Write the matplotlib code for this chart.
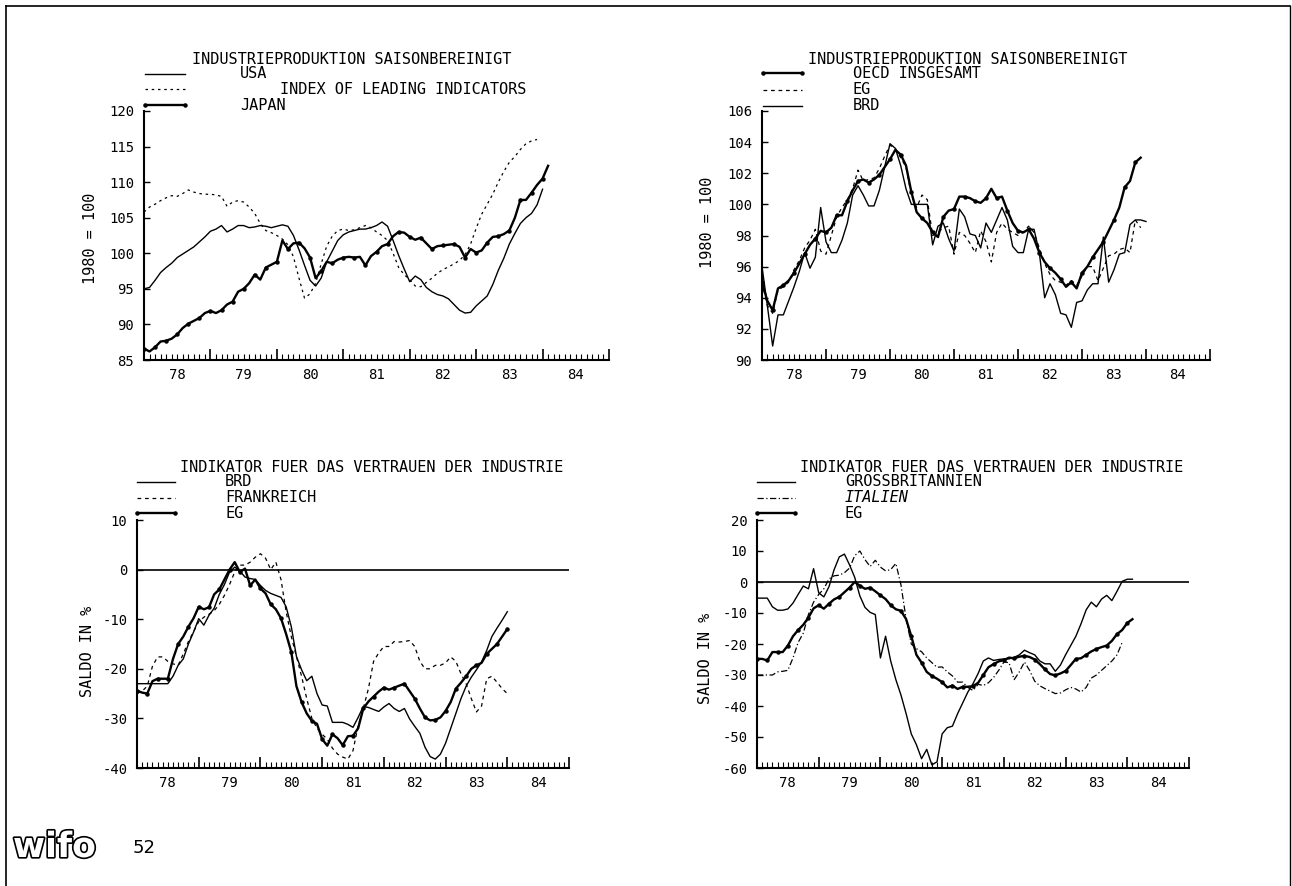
import numpy as np
import matplotlib.pyplot as plt
from matplotlib.lines import Line2D
import matplotlib.patheffects as pe

W, H = 1292, 886
plt.rcParams["axes.unicode_minus"] = False
MONO = "DejaVu Sans Mono"

# ----------------------------
# Data: monthly values, first value = January 1978
# ----------------------------
YEAR_LABELS = ["78", "79", "80", "81", "82", "83", "84"]

# panel 1: Industrieproduktion USA / Japan, leading indicators (1980 = 100)
usa = [95.0, 95.2, 96.2, 97.3, 98.0, 98.6, 99.4, 99.9, 100.4, 100.9, 101.6, 102.3,
       103.1, 103.4, 103.9, 103.0, 103.4, 103.9, 103.9, 103.6, 103.7, 103.9, 103.8, 103.6,
       103.8, 104.0, 103.8, 102.5, 100.5, 98.3, 96.2, 95.4, 96.5, 98.8, 100.3, 101.8,
       102.6, 103.0, 103.2, 103.4, 103.4, 103.6, 103.9, 104.4, 103.8, 101.8, 99.7, 97.8,
       96.0, 96.8, 96.3, 95.2, 94.6, 94.2, 94.0, 93.6, 92.8, 92.0, 91.6, 91.7,
       92.6, 93.3, 94.0, 95.6, 97.6, 99.3, 101.3, 102.8, 104.2, 105.0, 105.6, 106.8,
       109.0]
leading = [105.8, 106.5, 106.9, 107.4, 107.8, 108.1, 108.0, 108.4, 108.9, 108.6, 108.4, 108.3,
           108.3, 108.2, 108.0, 106.6, 107.2, 107.4, 107.2, 106.5, 105.6, 104.2, 103.2, 102.9,
           102.5, 102.0, 101.2, 99.5, 96.5, 93.7, 94.3, 95.8, 98.5, 101.0, 102.4, 103.2,
           103.4, 103.2, 103.3, 103.6, 103.9, 103.6, 103.0, 102.5, 101.8, 100.0, 98.0, 97.0,
           96.3, 95.4, 95.3, 95.9, 96.5, 97.2, 97.7, 98.1, 98.5, 99.0, 99.8, 101.3,
           103.5, 105.5, 106.9, 108.3, 110.0, 111.5, 112.8, 113.6, 114.6, 115.4, 115.8, 116.0]
japan = [86.6, 86.2, 86.8, 87.6, 87.7, 88.0, 88.6, 89.5, 90.1, 90.5, 90.9, 91.6,
         91.9, 91.6, 92.0, 92.8, 93.2, 94.6, 95.0, 95.8, 97.0, 96.3, 98.0, 98.4,
         98.8, 101.8, 100.6, 101.4, 101.5, 100.7, 99.4, 96.5, 97.5, 98.8, 98.6, 99.1,
         99.4, 99.5, 99.4, 99.5, 98.3, 99.6, 100.2, 101.0, 101.3, 102.4, 103.0, 102.9,
         102.3, 101.9, 102.2, 101.4, 100.6, 101.0, 101.1, 101.2, 101.3, 100.9, 99.4, 100.6,
         100.1, 100.4, 101.5, 102.3, 102.4, 102.7, 103.2, 105.0, 107.5, 107.5, 108.5, 109.6,
         110.5, 112.3]

# panel 2: Industrieproduktion OECD / EG / BRD (1980 = 100)
oecd = [95.0, 93.8, 93.2, 94.6, 94.8, 95.1, 95.6, 96.2, 96.8, 97.4, 97.8, 98.3,
        98.2, 98.5, 99.3, 99.3, 100.2, 100.9, 101.5, 101.6, 101.4, 101.6, 101.9, 102.4,
        102.9, 103.5, 103.2, 102.5, 100.8, 99.5, 99.1, 98.8, 98.2, 97.9, 99.2, 99.6,
        99.7, 100.5, 100.5, 100.4, 100.2, 100.1, 100.4, 101.0, 100.4, 100.5, 99.6, 98.8,
        98.3, 98.2, 98.4, 97.8, 96.9, 96.3, 95.9, 95.6, 95.2, 94.7, 95.0, 94.6,
        95.6, 96.0, 96.6, 97.1, 97.6, 98.3, 99.0, 99.8, 101.1, 101.5, 102.7, 103.0]
eg_ip = [95.0, 93.5, 93.0, 94.5, 94.7, 95.0, 95.8, 96.4, 97.2, 97.7, 98.4, 97.0,
         96.8, 98.0, 99.2, 99.8, 100.3, 101.0, 102.2, 101.5, 101.6, 101.7, 102.3, 103.1,
         103.8, 103.6, 103.0, 102.4, 100.6, 99.8, 100.6, 100.3, 98.0, 98.2, 98.5, 98.6,
         96.8, 98.2, 98.0, 97.5, 96.9, 98.3, 97.6, 96.3, 98.2, 98.8, 98.4, 98.2,
         98.0, 98.2, 98.6, 98.2, 97.2, 96.2, 95.5, 95.1, 95.0, 94.8, 95.1, 94.8,
         95.4, 96.0, 96.0, 95.1, 95.9, 96.7, 96.8, 97.1, 97.2, 96.9, 99.0, 98.5]
brd_ip = [96.0, 93.5, 90.9, 92.9, 92.9, 93.8, 94.7, 95.7, 96.9, 95.9, 96.6, 99.8,
          97.6, 96.9, 96.9, 97.7, 98.8, 100.6, 101.2, 100.6, 99.9, 99.9, 100.9, 102.4,
          103.9, 103.6, 102.5, 101.0, 100.0, 100.0, 100.0, 100.0, 97.4, 98.6, 98.8, 97.8,
          97.0, 99.7, 99.2, 98.1, 98.0, 97.2, 98.8, 98.2, 99.0, 99.8, 99.0, 97.3,
          96.9, 96.9, 98.4, 98.4, 96.9, 94.0, 94.9, 94.2, 93.0, 92.9, 92.1, 93.7,
          93.8, 94.5, 94.9, 94.9, 97.9, 95.0, 95.8, 96.8, 96.9, 98.7, 99.0, 99.0,
          98.9]

# panel 3: Vertrauensindikator BRD / Frankreich / EG (Saldo in %)
brd_vi = [-23.0, -23.0, -23.0, -23.0, -23.0, -23.0, -23.0, -21.5, -19.3, -18.0, -15.0, -12.6,
          -9.9, -11.2, -9.2, -7.8, -5.0, -3.0, -0.5, 0.5, -0.3, -1.5, -1.8, -2.0,
          -3.2, -4.2, -4.8, -5.2, -5.6, -7.5, -11.5, -17.5, -20.2, -22.4, -21.5, -25.0,
          -27.3, -27.5, -30.8, -30.8, -30.8, -31.2, -31.8, -29.8, -27.6, -27.8, -28.2, -28.6,
          -27.7, -27.0, -28.0, -28.6, -28.0, -30.1, -31.6, -33.0, -35.8, -37.7, -38.2, -37.2,
          -35.0, -32.0, -29.0, -26.0, -23.5, -21.7, -20.2, -18.6, -16.3, -13.5, -11.8, -10.2,
          -8.5]
frankreich = [-25.0, -24.5, -23.5, -19.5, -17.6, -17.6, -18.5, -19.0, -19.3, -17.0, -14.5, -12.5,
              -10.5, -9.6, -9.0, -8.3, -7.0, -5.2, -3.0, -0.5, 0.9, 0.9, 1.5, 2.5,
              3.2, 2.3, 0.0, 1.5, -2.0, -8.5, -13.5, -17.5, -21.5, -26.0, -30.0, -32.0,
              -33.2, -34.2, -36.0, -37.2, -37.8, -38.2, -36.5, -31.5, -28.0, -24.0, -18.5, -16.8,
              -15.5, -15.5, -14.5, -14.6, -14.5, -14.3, -15.5, -18.5, -20.0, -20.0, -19.3, -19.3,
              -18.8, -17.6, -18.5, -21.0, -23.0, -26.0, -28.7, -27.5, -22.0, -21.5, -22.7, -24.0,
              -25.0]
eg_vi3 = [-24.4, -24.8, -25.0, -22.5, -22.0, -22.0, -22.0, -18.0, -15.0, -13.5, -11.5, -9.8,
          -7.5, -8.0, -7.6, -5.0, -4.0, -2.0, 0.0, 1.5, -0.5, 0.2, -3.2, -2.0,
          -3.8, -4.8, -7.0, -8.0, -9.8, -13.0, -16.6, -23.5, -26.7, -29.0, -30.5, -31.1,
          -34.2, -35.5, -33.2, -34.0, -35.4, -33.6, -33.5, -32.0, -28.0, -26.6, -25.6, -24.6,
          -23.8, -24.2, -23.8, -23.4, -23.0, -24.5, -26.0, -28.0, -29.8, -30.4, -30.3, -29.8,
          -28.5, -26.7, -24.0, -22.8, -21.5, -20.0, -19.3, -18.8, -17.0, -16.0, -15.0, -13.5,
          -12.0]

# panel 4: Vertrauensindikator Grossbritannien / Italien / EG (Saldo in %)
gb_vi = [-5.2, -5.2, -5.2, -8.0, -9.1, -9.1, -8.7, -6.8, -4.0, -1.3, -2.2, 4.3,
         -3.5, -4.8, -1.5, 4.0, 8.1, 9.0, 5.5, 1.5, -4.5, -8.2, -9.8, -10.5,
         -24.5, -17.5, -25.5, -31.5, -36.5, -42.5, -49.0, -52.5, -57.0, -54.0, -59.0, -58.0,
         -49.0, -47.0, -46.5, -42.5, -39.0, -35.5, -32.8, -29.5, -25.5, -24.5, -25.3, -25.0,
         -24.8, -24.8, -24.3, -23.5, -22.0, -22.8, -23.5, -25.5, -26.4, -26.4, -28.8, -26.8,
         -23.5, -20.5, -17.5, -13.5, -9.0, -6.5, -8.0, -5.5, -4.3, -6.0, -3.0, 0.2,
         0.9, 0.9]
italien = [-30.0, -30.0, -30.0, -30.0, -29.0, -28.8, -28.5, -24.5, -19.5, -16.5, -10.5, -6.5,
           -4.0, -2.2, 1.0, 2.0, 2.2, 3.0, 4.5, 8.5, 10.0, 7.2, 5.0, 7.0,
           4.8, 3.6, 4.0, 6.0, -1.0, -12.0, -20.0, -21.5, -22.5, -24.5, -26.0, -27.5,
           -27.4, -29.0, -30.3, -32.3, -32.3, -34.0, -35.0, -33.0, -33.4, -32.5, -30.8, -28.5,
           -25.8, -26.0, -31.5, -29.0, -25.8, -28.5, -32.0, -33.5, -34.4, -35.2, -36.0, -35.8,
           -34.8, -34.0, -34.5, -35.5, -34.0, -31.0, -30.0, -28.5, -27.0, -25.5, -23.5, -19.5]
eg_vi4 = [-24.8, -24.8, -25.3, -22.6, -22.6, -22.6, -20.5, -17.5, -15.5, -13.8, -11.5, -8.5,
          -7.5, -8.6, -7.0, -5.6, -4.8, -3.3, -1.8, 0.0, -1.2, -2.2, -1.8, -3.0,
          -4.3, -5.5, -7.5, -8.8, -9.3, -12.0, -17.5, -23.5, -26.0, -29.0, -30.3, -31.2,
          -32.3, -34.0, -33.4, -34.5, -33.8, -33.8, -33.6, -32.5, -30.0, -27.5, -26.5, -25.6,
          -25.2, -24.4, -24.6, -24.1, -23.8, -24.2, -25.0, -26.5, -28.2, -29.7, -30.1, -29.5,
          -28.7, -26.8, -24.8, -24.6, -23.5, -22.4, -21.6, -21.0, -20.5, -19.0, -16.8, -15.5,
          -13.2, -12.0]

# ----------------------------
# Line styles
# ----------------------------
SOLID = dict(color="black", lw=1.0, ls="-")
DASHED = dict(color="black", lw=0.9, ls=(0, (3, 3)))
DOTTED = dict(color="black", lw=0.9, ls=(0, (2, 3)))
DASHDOT = dict(color="black", lw=0.9, ls=(0, (5, 2, 1, 2)))
DOTS = dict(color="black", lw=1.7, ls="-", marker="o", markersize=2.2, markevery=2)


def months(vals):
    return 1978 + np.arange(len(vals)) / 12.0


def px_axes(fig, left, top, right, bottom):
    return fig.add_axes([left / W, 1 - bottom / H, (right - left) / W, (bottom - top) / H])


def fig_text(fig, x, y, s, **kw):
    kw.setdefault("family", MONO)
    kw.setdefault("fontsize", 11)
    kw.setdefault("va", "center")
    kw.setdefault("ha", "left")
    fig.text(x / W, 1 - y / H, s, **kw)


def fig_line(fig, x0, x1, y, style):
    st = dict(style)
    st.pop("markevery", None)
    ln = Line2D([x0 / W, x1 / W], [1 - y / H, 1 - y / H], transform=fig.transFigure, **st)
    fig.add_artist(ln)


def style_axis(ax, ylim, yticks):
    ax.set_xlim(1978, 1985)
    ax.set_ylim(*ylim)
    for s in ("top", "right"):
        ax.spines[s].set_visible(False)
    for s in ("left", "bottom"):
        ax.spines[s].set_linewidth(1.5)
    ax.set_xticks(np.arange(1978, 1986))
    ax.set_xticks(1978 + np.arange(85) / 12.0, minor=True)
    ax.tick_params(axis="x", which="major", direction="in", length=8, width=1.2,
                   labelbottom=False)
    ax.tick_params(axis="x", which="minor", direction="in", length=4, width=0.8)
    ax.set_yticks(yticks)
    ax.set_yticklabels([str(v) for v in yticks], family=MONO, fontsize=10)
    ax.tick_params(axis="y", direction="in", length=4, width=1.0, pad=7)
    for i, lab in enumerate(YEAR_LABELS):
        ax.text(1978.5 + i, -0.062, lab, transform=ax.get_xaxis_transform(),
                ha="center", va="center", family=MONO, fontsize=10)


fig = plt.figure(figsize=(W / 100, H / 100), dpi=100)

# page frame of the scan
fig.add_artist(Line2D([6 / W, 1290 / W], [1 - 6 / H, 1 - 6 / H], transform=fig.transFigure,
                      color="black", lw=1.2))
fig.add_artist(Line2D([6 / W, 6 / W], [0, 1 - 6 / H], transform=fig.transFigure,
                      color="black", lw=1.2))
fig.add_artist(Line2D([1290 / W, 1290 / W], [0, 1 - 6 / H], transform=fig.transFigure,
                      color="black", lw=1.0))

# ---- panel 1
ax1 = px_axes(fig, 144, 111, 609, 360)
style_axis(ax1, (85, 120), list(range(85, 121, 5)))
ax1.plot(months(usa), usa, **SOLID)
ax1.plot(months(leading), leading, **DOTTED)
ax1.plot(months(japan), japan, **DOTS)
fig_text(fig, 192, 59, "INDUSTRIEPRODUKTION SAISONBEREINIGT")
fig_line(fig, 145, 185, 74, SOLID)
fig_text(fig, 240, 74, "USA")
fig_line(fig, 145, 185, 89, DOTTED)
fig_text(fig, 280, 89, "INDEX OF LEADING INDICATORS")
fig_line(fig, 145, 185, 105, DOTS)
fig_text(fig, 240, 105, "JAPAN")
fig_text(fig, 91, 238, "1980 = 100", rotation=90, ha="center")

# ---- panel 2
ax2 = px_axes(fig, 762, 111, 1210, 360)
style_axis(ax2, (90, 106), list(range(90, 107, 2)))
ax2.plot(months(oecd), oecd, **DOTS)
ax2.plot(months(eg_ip), eg_ip, **DASHED)
ax2.plot(months(brd_ip), brd_ip, **SOLID)
fig_text(fig, 808, 59, "INDUSTRIEPRODUKTION SAISONBEREINIGT")
fig_line(fig, 763, 802, 73, DOTS)
fig_text(fig, 853, 73, "OECD INSGESAMT")
fig_line(fig, 763, 802, 90, DASHED)
fig_text(fig, 853, 90, "EG")
fig_line(fig, 763, 802, 106, SOLID)
fig_text(fig, 853, 106, "BRD")
fig_text(fig, 707, 222, "1980 = 100", rotation=90, ha="center")

# ---- panel 3
ax3 = px_axes(fig, 137, 520, 569, 768)
style_axis(ax3, (-40, 10), list(range(-40, 11, 10)))
ax3.axhline(0, color="black", lw=1.2)
ax3.plot(months(brd_vi), brd_vi, **SOLID)
ax3.plot(months(frankreich), frankreich, **DASHED)
ax3.plot(months(eg_vi3), eg_vi3, **DOTS)
fig_text(fig, 180, 468, "INDIKATOR FUER DAS VERTRAUEN DER INDUSTRIE")
fig_line(fig, 137, 175, 482, SOLID)
fig_text(fig, 225, 482, "BRD")
fig_line(fig, 137, 175, 498, DASHED)
fig_text(fig, 225, 498, "FRANKREICH")
fig_line(fig, 137, 175, 513, DOTS)
fig_text(fig, 225, 513, "EG")
fig_text(fig, 87, 651, "SALDO IN %", rotation=90, ha="center")

# ---- panel 4
ax4 = px_axes(fig, 757, 520, 1189, 768)
style_axis(ax4, (-60, 20), list(range(-60, 21, 10)))
ax4.axhline(0, color="black", lw=1.2)
ax4.plot(months(gb_vi), gb_vi, **SOLID)
ax4.plot(months(italien), italien, **DASHDOT)
ax4.plot(months(eg_vi4), eg_vi4, **DOTS)
fig_text(fig, 800, 468, "INDIKATOR FUER DAS VERTRAUEN DER INDUSTRIE")
fig_line(fig, 757, 795, 482, SOLID)
fig_text(fig, 845, 482, "GROSSBRITANNIEN")
fig_line(fig, 757, 795, 498, DASHDOT)
fig_text(fig, 845, 498, "ITALIEN", style="italic")
fig_line(fig, 757, 795, 513, DOTS)
fig_text(fig, 845, 513, "EG")
fig_text(fig, 705, 658, "SALDO IN %", rotation=90, ha="center")

# ---- footer: logo and page number
fig_text(fig, 13, 847, "wifo", family="DejaVu Sans", fontsize=25, weight="bold",
         color="white",
         path_effects=[pe.withStroke(linewidth=2.4, foreground="black")])
fig_text(fig, 133, 848, "52", family="DejaVu Sans", fontsize=13)

fig.savefig("out.png", dpi=100)
plt.close("all")
